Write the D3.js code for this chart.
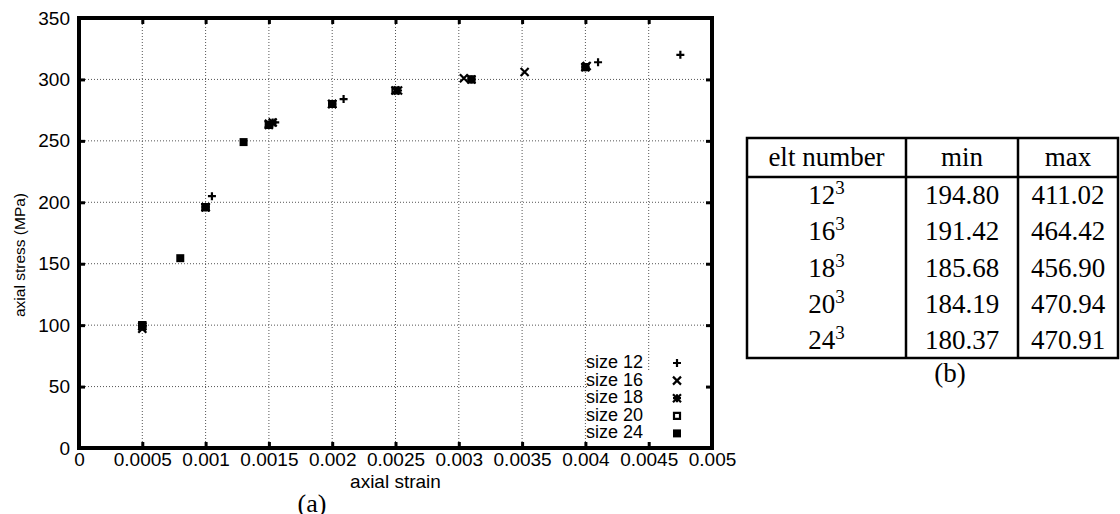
<!DOCTYPE html>
<html>
<head>
<meta charset="utf-8">
<script src="https://cdn.jsdelivr.net/npm/d3@7"></script>
<style>
  html, body { margin: 0; padding: 0; background: #fff; }
  svg { display: block; }
</style>
</head>
<body>
<svg id="chart" width="1120" height="514"></svg>
<script>
// ---------- data ----------
const xTickValues = [0, 0.0005, 0.001, 0.0015, 0.002, 0.0025, 0.003, 0.0035, 0.004, 0.0045, 0.005];
const xTickLabels = ["0", "0.0005", "0.001", "0.0015", "0.002", "0.0025", "0.003", "0.0035", "0.004", "0.0045", "0.005"];
const yTickValues = [0, 50, 100, 150, 200, 250, 300, 350];
const yTickLabels = ["0", "50", "100", "150", "200", "250", "300", "350"];

const seriesNames = ["size 12", "size 16", "size 18", "size 20", "size 24"];
const seriesSymbols = ["plus", "cross", "star", "openSquare", "filledSquare"];

const size12Strain = [0.0005, 0.00105, 0.00155, 0.00209, 0.0041, 0.00475];
const size12Stress = [99, 205, 265, 284, 314, 320];
const size16Strain = [0.0005, 0.001, 0.0015, 0.002, 0.0025, 0.00304, 0.00352, 0.00401];
const size16Stress = [97, 196, 264, 280, 291, 301, 306, 311];
const size18Strain = [0.0005, 0.001, 0.0015, 0.00153, 0.002, 0.00252, 0.0031, 0.004];
const size18Stress = [99, 196, 263, 265, 280, 291, 300, 310];
const size20Strain = [0.0005, 0.001, 0.0015, 0.002, 0.0025, 0.0031, 0.004];
const size20Stress = [100, 196, 263, 280, 291, 300, 310];
const size24Strain = [0.0005, 0.0008, 0.001, 0.0013, 0.0015, 0.002];
const size24Stress = [100, 154.5, 196, 249, 263, 280];

const tableHeader = ["elt number", "min", "max"];
const tableBase = ["12", "16", "18", "20", "24"];
const tableExp = ["3", "3", "3", "3", "3"];
const tableMin = ["194.80", "191.42", "185.68", "184.19", "180.37"];
const tableMax = ["411.02", "464.42", "456.90", "470.94", "470.91"];

const xTitle = "axial strain";
const yTitle = "axial stress (MPa)";
const captionA = "(a)";
const captionB = "(b)";

// ---------- layout ----------
const svg = d3.select("#chart");
const plot = { left: 79, right: 712, top: 18, bottom: 448 };
const sansFont = "'Liberation Sans', Arial, Helvetica, sans-serif";
const serifFont = "'Liberation Serif', 'Times New Roman', Times, serif";

const x = d3.scaleLinear().domain([0, 0.005]).range([plot.left, plot.right]);
const y = d3.scaleLinear().domain([0, 350]).range([plot.bottom, plot.top]);

// grid
const grid = svg.append("g");
grid.selectAll("line.gx").data(xTickValues.slice(1, -1)).enter().append("line")
  .attr("x1", d => x(d)).attr("x2", d => x(d))
  .attr("y1", plot.top).attr("y2", plot.bottom)
  .attr("stroke", "#555").attr("stroke-width", 1).attr("stroke-dasharray", "1,2");
grid.selectAll("line.gy").data(yTickValues.slice(1, -1)).enter().append("line")
  .attr("y1", d => y(d)).attr("y2", d => y(d))
  .attr("x1", plot.left).attr("x2", plot.right)
  .attr("stroke", "#555").attr("stroke-width", 1).attr("stroke-dasharray", "1,2");

// legend background (key box cleared)
svg.append("rect").attr("x", 587).attr("y", 372).attr("width", 119).attr("height", 74).attr("fill", "#fff");

// axes with d3 axis generators (inward ticks, labels)
const xAxis = d3.axisBottom(x).tickValues(xTickValues)
  .tickFormat((d, i) => xTickLabels[i]).tickSizeInner(-6).tickSizeOuter(0).tickPadding(5);
const gx = svg.append("g").attr("transform", `translate(0,${plot.bottom})`).call(xAxis);
gx.select(".domain").remove();
gx.selectAll(".tick line").attr("stroke", "#000").attr("stroke-width", 3);
gx.selectAll(".tick text").attr("font-family", sansFont).attr("font-size", 19).attr("fill", "#000");

const yAxis = d3.axisLeft(y).tickValues(yTickValues)
  .tickFormat((d, i) => yTickLabels[i]).tickSizeInner(-6).tickSizeOuter(0).tickPadding(9);
const gy = svg.append("g").attr("transform", `translate(${plot.left},0)`).call(yAxis);
gy.select(".domain").remove();
gy.selectAll(".tick line").attr("stroke", "#000").attr("stroke-width", 3);
gy.selectAll(".tick text").attr("font-family", sansFont).attr("font-size", 19).attr("fill", "#000");

// mirrored ticks top / right
const xTop = d3.axisTop(x).tickValues(xTickValues).tickFormat("").tickSizeInner(-6).tickSizeOuter(0);
const gxt = svg.append("g").attr("transform", `translate(0,${plot.top})`).call(xTop);
gxt.select(".domain").remove();
gxt.selectAll(".tick line").attr("stroke", "#000").attr("stroke-width", 3);
const yRight = d3.axisRight(y).tickValues(yTickValues).tickFormat("").tickSizeInner(-6).tickSizeOuter(0);
const gyr = svg.append("g").attr("transform", `translate(${plot.right},0)`).call(yRight);
gyr.select(".domain").remove();
gyr.selectAll(".tick line").attr("stroke", "#000").attr("stroke-width", 3);

// frame
svg.append("rect").attr("x", plot.left).attr("y", plot.top)
  .attr("width", plot.right - plot.left).attr("height", plot.bottom - plot.top)
  .attr("fill", "none").attr("stroke", "#000").attr("stroke-width", 4);

// axis titles
svg.append("text").attr("x", (plot.left + plot.right) / 2).attr("y", 488)
  .attr("text-anchor", "middle").attr("font-family", sansFont).attr("font-size", 19).text(xTitle);
svg.append("text").attr("transform", `translate(25,255) rotate(-90)`)
  .attr("text-anchor", "middle").attr("font-family", sansFont).attr("font-size", 15.5).text(yTitle);
svg.append("text").attr("x", 312).attr("y", 512)
  .attr("text-anchor", "middle").attr("font-family", serifFont).attr("font-size", 26).text(captionA);

// ---------- markers ----------
function markerPath(type, cx, cy) {
  const r = 4;
  switch (type) {
    case "plus": return `M${cx - r},${cy}H${cx + r}M${cx},${cy - r}V${cy + r}`;
    case "cross": return `M${cx - r},${cy - r}L${cx + r},${cy + r}M${cx - r},${cy + r}L${cx + r},${cy - r}`;
    case "star": return `M${cx - r},${cy - r}L${cx + r},${cy + r}M${cx - r},${cy + r}L${cx + r},${cy - r}M${cx - r},${cy}H${cx + r}M${cx},${cy - r}V${cy + r}`;
    case "openSquare": return `M${cx - r + 1},${cy - r + 1}h${2 * r - 2}v${2 * r - 2}h${-(2 * r - 2)}Z`;
    case "filledSquare": return `M${cx - r},${cy - r}h${2 * r}v${2 * r}h${-2 * r}Z`;
  }
}
function drawMarker(g, type, cx, cy) {
  const p = g.append("path").attr("d", markerPath(type, cx, cy));
  if (type === "filledSquare") p.attr("fill", "#000").attr("stroke", "none");
  else p.attr("fill", "none").attr("stroke", "#000").attr("stroke-width", 2.2);
}

const seriesStrain = [size12Strain, size16Strain, size18Strain, size20Strain, size24Strain];
const seriesStress = [size12Stress, size16Stress, size18Stress, size20Stress, size24Stress];
const pts = svg.append("g");
seriesStrain.forEach((xs, si) => {
  xs.forEach((v, i) => drawMarker(pts, seriesSymbols[si], x(v), y(seriesStress[si][i])));
});

// legend
const lg = svg.append("g");
seriesNames.forEach((name, i) => {
  const by = 368 + i * 17.6;
  lg.append("text").attr("x", 586).attr("y", by).attr("font-family", sansFont)
    .attr("font-size", 18).text(name);
  drawMarker(lg, seriesSymbols[i], 677, by - 5);
});

// ---------- table ----------
const tb = { x0: 747, x1: 906, x2: 1018, x3: 1118, top: 138, head: 177, bottom: 358 };
const tg = svg.append("g");
const colCenters = [(tb.x0 + tb.x1) / 2, (tb.x1 + tb.x2) / 2, (tb.x2 + tb.x3) / 2];
tg.append("rect").attr("x", tb.x0).attr("y", tb.top).attr("width", tb.x3 - tb.x0)
  .attr("height", tb.bottom - tb.top).attr("fill", "none").attr("stroke", "#000").attr("stroke-width", 2.5);
[tb.x1, tb.x2].forEach(v => tg.append("line").attr("x1", v).attr("x2", v)
  .attr("y1", tb.top).attr("y2", tb.bottom).attr("stroke", "#000").attr("stroke-width", 2.5));
tg.append("line").attr("x1", tb.x0).attr("x2", tb.x3).attr("y1", tb.head).attr("y2", tb.head)
  .attr("stroke", "#000").attr("stroke-width", 2.5);

tableHeader.forEach((h, i) => {
  tg.append("text").attr("x", colCenters[i]).attr("y", 166).attr("text-anchor", "middle")
    .attr("font-family", serifFont).attr("font-size", 27).text(h);
});
const rowStep = (tb.bottom - tb.head) / tableBase.length;
tableBase.forEach((b, i) => {
  const by = tb.head + rowStep * (i + 0.5) + 9;
  const t = tg.append("text").attr("x", colCenters[0]).attr("y", by).attr("text-anchor", "middle")
    .attr("font-family", serifFont).attr("font-size", 27);
  t.append("tspan").text(b);
  t.append("tspan").attr("font-size", 19).attr("dy", -10).text(tableExp[i]);
  tg.append("text").attr("x", colCenters[1]).attr("y", by).attr("text-anchor", "middle")
    .attr("font-family", serifFont).attr("font-size", 27).text(tableMin[i]);
  tg.append("text").attr("x", colCenters[2]).attr("y", by).attr("text-anchor", "middle")
    .attr("font-family", serifFont).attr("font-size", 27).text(tableMax[i]);
});
tg.append("text").attr("x", 950).attr("y", 382).attr("text-anchor", "middle")
  .attr("font-family", serifFont).attr("font-size", 27).text(captionB);
</script>
</body>
</html>
